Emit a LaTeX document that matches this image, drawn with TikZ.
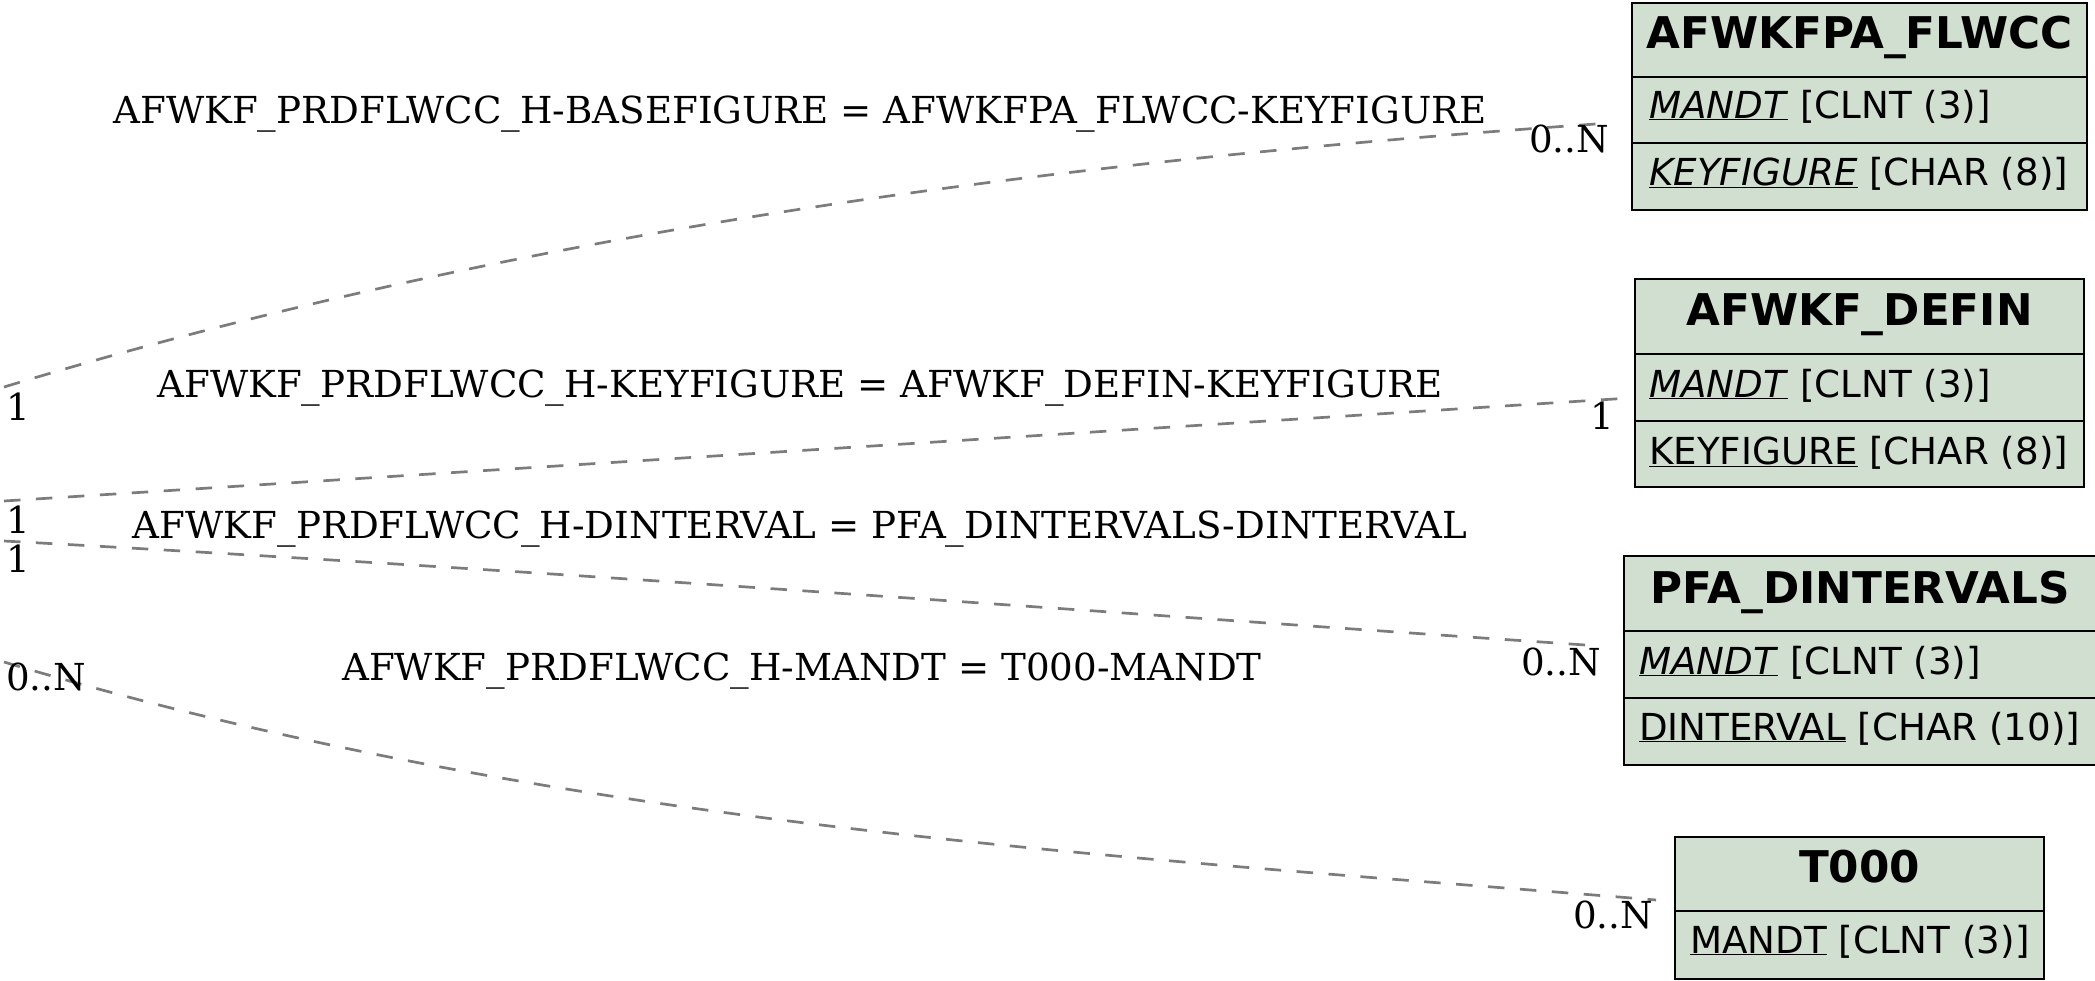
\documentclass[tikz,border=0pt]{standalone}
\usepackage{fontspec}
\setmainfont{DejaVu Serif}
\newfontfamily\tabfont{DejaVu Sans}
\definecolor{tabfill}{RGB}{209,223,209}
\definecolor{relgray}{RGB}{124,124,124}
\begin{document}
\begin{tikzpicture}[x=1pt,y=-1pt,
  cell/.style={draw=black, line width=2.6pt, fill=tabfill, anchor=north west, inner sep=0pt, outer sep=0pt},
  hdr/.style={anchor=base, inner sep=0pt, font=\tabfont\fontsize{43.7}{50}\selectfont\bfseries},
  fld/.style={anchor=base west, inner sep=0pt, font=\tabfont\fontsize{37.2}{44}\selectfont},
  rel/.style={draw=relgray, line width=2.7pt, dash pattern=on 16.5pt off 15.5pt},
  lbl/.style={anchor=base, inner sep=0pt, font=\fontsize{37.2}{42}\selectfont},
  card/.style={anchor=base west, inner sep=0pt, font=\fontsize{37.2}{44}\selectfont}]
\useasboundingbox (0,0) rectangle (2095,980);

% AFWKFPA_FLWCC
\node[cell, minimum width=455pt, minimum height=74pt] (t1h) at (1632,3) {};
\node[cell, minimum width=455pt, minimum height=66pt] (t1r1) at (1632,77) {};
\node[cell, minimum width=455pt, minimum height=67pt] (t1r2) at (1632,143) {};
\node[hdr] (t1ht) at (1859.5,48) {AFWKFPA\_FLWCC};
\node[fld] (t1f1) at (1649,118) {\underline{\textit{MANDT}} [CLNT (3)]};
\node[fld] (t1f2) at (1649,185) {\underline{\textit{KEYFIGURE}} [CHAR (8)]};

% AFWKF_DEFIN
\node[cell, minimum width=449pt, minimum height=75pt] (t2h) at (1635,279) {};
\node[cell, minimum width=449pt, minimum height=67pt] (t2r1) at (1635,354) {};
\node[cell, minimum width=449pt, minimum height=66pt] (t2r2) at (1635,421) {};
\node[hdr] (t2ht) at (1859.5,325) {AFWKF\_DEFIN};
\node[fld] (t2f1) at (1649,397) {\underline{\textit{MANDT}} [CLNT (3)]};
\node[fld] (t2f2) at (1649,464) {\underline{KEYFIGURE} [CHAR (8)]};

% PFA_DINTERVALS
\node[cell, minimum width=472pt, minimum height=75pt] (t3h) at (1624,556) {};
\node[cell, minimum width=472pt, minimum height=67pt] (t3r1) at (1624,631) {};
\node[cell, minimum width=472pt, minimum height=67pt] (t3r2) at (1624,698) {};
\node[hdr] (t3ht) at (1860,603) {PFA\_DINTERVALS};
\node[fld] (t3f1) at (1639,674) {\underline{\textit{MANDT}} [CLNT (3)]};
\node[fld] (t3f2) at (1639,740) {\underline{DINTERVAL} [CHAR (10)]};

% T000
\node[cell, minimum width=369pt, minimum height=74pt] (t4h) at (1675,837) {};
\node[cell, minimum width=369pt, minimum height=68pt] (t4r1) at (1675,911) {};
\node[hdr] (t4ht) at (1859.5,882) {T000};
\node[fld] (t4f1) at (1690,953) {\underline{MANDT} [CLNT (3)]};

% connector end points
\coordinate (a1) at (4,387);   \coordinate (b1) at (1610,123);
\coordinate (a2) at (4,501);   \coordinate (b2) at (1630,398);
\coordinate (a3) at (4,541);   \coordinate (b3) at (1600,646);
\coordinate (a4) at (4,662);   \coordinate (b4) at (1656,900);

\draw[rel] (a1) .. controls (539,225) and (1075,160) .. (b1);
\draw[rel] (a2) -- (b2);
\draw[rel] (a3) .. controls (540,570) and (1070,610) .. (b3);
\draw[rel] (a4) .. controls (555,827) and (1104,855) .. (b4);

% relationship labels
\node[lbl] (l1) at (800,123) {AFWKF\_PRDFLWCC\_H-BASEFIGURE = AFWKFPA\_FLWCC-KEYFIGURE};
\node[lbl] (l2) at (800,397) {AFWKF\_PRDFLWCC\_H-KEYFIGURE = AFWKF\_DEFIN-KEYFIGURE};
\node[lbl] (l3) at (800,538) {AFWKF\_PRDFLWCC\_H-DINTERVAL = PFA\_DINTERVALS-DINTERVAL};
\node[lbl] (l4) at (802,680) {AFWKF\_PRDFLWCC\_H-MANDT = T000-MANDT};

% cardinalities
\node[card] (c1a) at (6,420) {1};
\node[card] (c1b) at (1529,152) {0..N};
\node[card] (c2a) at (6,533) {1};
\node[card] (c2b) at (1590,429) {1};
\node[card] (c3a) at (6,572) {1};
\node[card] (c3b) at (1521,675) {0..N};
\node[card] (c4a) at (6,690) {0..N};
\node[card] (c4b) at (1573,928) {0..N};
\end{tikzpicture}
\end{document}
